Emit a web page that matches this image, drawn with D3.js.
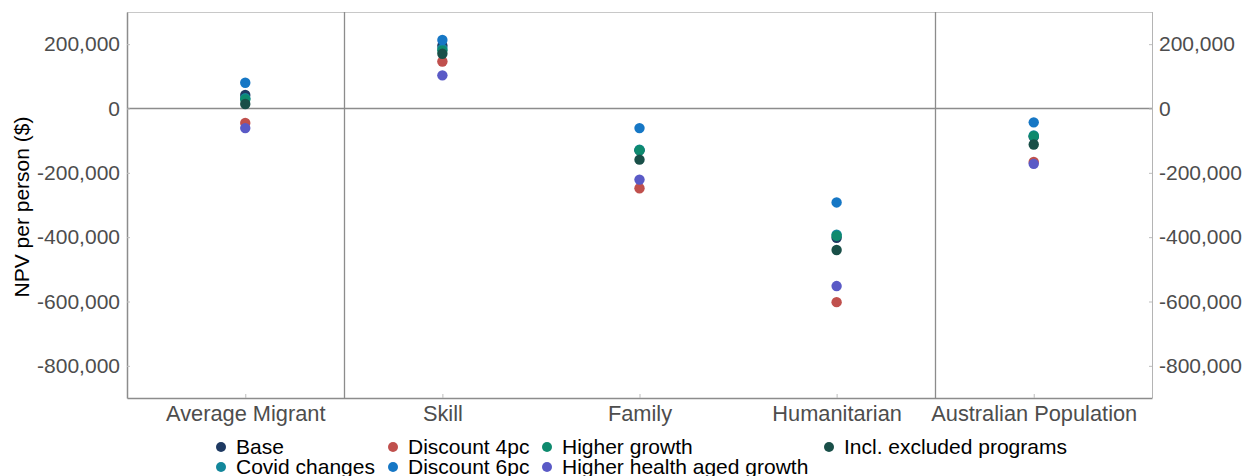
<!DOCTYPE html>
<html><head><meta charset="utf-8">
<script src="https://cdn.jsdelivr.net/npm/d3@7"></script>
<style>
html,body{margin:0;padding:0;background:#fff;}
svg{display:block;font-family:"Liberation Sans",Arial,sans-serif;}
</style></head>
<body><svg id="chart" width="1245" height="476"></svg>
<script>
const categories = ["Average Migrant","Skill","Family","Humanitarian","Australian Population"];
const seriesNames = ["Base","Covid changes","Discount 4pc","Discount 6pc","Higher growth","Higher health aged growth","Incl. excluded programs"];
const seriesColors = ["#1f3a62","#13879b","#c0504d","#1677c5","#0e8a6e","#5a5ac6","#194f48"];
const base        = [42000, 195000, -130000, -402000, -88000];
const covid       = [32000, 186000, -128000, -392000, -84000];
const discount4   = [-45000, 146000, -248000, -602000, -166000];
const discount6   = [80000, 213000, -61000, -292000, -43000];
const higherGrowth= [28000, 180000, -130000, -396000, -86000];
const healthAged  = [-61000, 103000, -221000, -552000, -172000];
const inclExcl    = [14000, 170000, -159000, -440000, -112000];
const seriesValues = [base, covid, discount4, discount6, higherGrowth, healthAged, inclExcl];
const yTicks = [200000, 0, -200000, -400000, -600000, -800000];

const svg = d3.select("#chart");
const L = 127, R = 1152, T = 12, B = 398;
const x = d3.scalePoint().domain(categories).range([L, R]).padding(0.6);
const y = d3.scaleLinear().domain([-900000, 300000]).range([B, T]);
const fmt = d3.formatLocale({decimal:".", thousands:",", grouping:[3], currency:["$",""], minus:"-"}).format(",");

// panel border
svg.append("line").attr("x1",L).attr("x2",R).attr("y1",T+0.5).attr("y2",T+0.5).attr("stroke","#c8c8c8").attr("stroke-width",1);
svg.append("line").attr("x1",R+0.5).attr("x2",R+0.5).attr("y1",T).attr("y2",B).attr("stroke","#b4b4b4").attr("stroke-width",1);

// separators
const sep = [(x(categories[0])+x(categories[1]))/2, (x(categories[3])+x(categories[4]))/2];
sep.forEach(s => svg.append("line").attr("x1",Math.round(s)+0.5).attr("x2",Math.round(s)+0.5).attr("y1",T).attr("y2",B).attr("stroke","#8c8c8c").attr("stroke-width",1.3));

// zero line
svg.append("line").attr("x1",L).attr("x2",R).attr("y1",y(0)).attr("y2",y(0)).attr("stroke","#8c8c8c").attr("stroke-width",1.5);

// left axis
const gl = svg.append("g").attr("transform",`translate(${L},0)`)
  .call(d3.axisLeft(y).tickValues(yTicks).tickFormat(fmt).tickSizeInner(-3).tickSizeOuter(0).tickPadding(7));
gl.select(".domain").attr("stroke","#8c8c8c").attr("stroke-width",1.5);
gl.selectAll(".tick line").attr("stroke","#bdbdbd");
gl.selectAll(".tick text").attr("fill","#4d4d4d").style("font-size","21px").style("font-family","Liberation Sans, Arial, sans-serif");

// right axis
const gr = svg.append("g").attr("transform",`translate(${R},0)`)
  .call(d3.axisRight(y).tickValues(yTicks).tickFormat(fmt).tickSizeInner(-3).tickSizeOuter(0).tickPadding(7));
gr.select(".domain").remove();
gr.selectAll(".tick line").attr("stroke","#bdbdbd");
gr.selectAll(".tick text").attr("fill","#4d4d4d").style("font-size","21px").style("font-family","Liberation Sans, Arial, sans-serif");

// bottom axis
const gb = svg.append("g").attr("transform",`translate(0,${B})`)
  .call(d3.axisBottom(x).tickSizeInner(-4).tickSizeOuter(0).tickPadding(8));
gb.select(".domain").attr("stroke","#8c8c8c").attr("stroke-width",1.5);
gb.selectAll(".tick line").attr("stroke","#bdbdbd");
gb.selectAll(".tick text").attr("fill","#4d4d4d").style("font-size","21.8px").style("font-family","Liberation Sans, Arial, sans-serif");

// y title
svg.append("text").attr("transform","translate(29,207) rotate(-90)").attr("text-anchor","middle")
  .style("font-size","21px").attr("fill","#000").text("NPV per person ($)");

// points
seriesNames.forEach((name,i) => {
  svg.append("g").selectAll("circle").data(seriesValues[i]).join("circle")
    .attr("cx",(d,j)=>x(categories[j])).attr("cy",d=>y(d)).attr("r",5.2)
    .attr("fill",seriesColors[i]);
});

// legend
const legendPos = [
  [221,447],[221,467],[393,447],[393,467],[547,447],[547,467],[829,447]
];
seriesNames.forEach((name,i) => {
  const [lx,ly] = legendPos[i];
  svg.append("circle").attr("cx",lx).attr("cy",ly).attr("r",5).attr("fill",seriesColors[i]);
  svg.append("text").attr("x",lx+15).attr("y",ly+7).style("font-size","21px").attr("fill","#000").text(name);
});
</script></body></html>
